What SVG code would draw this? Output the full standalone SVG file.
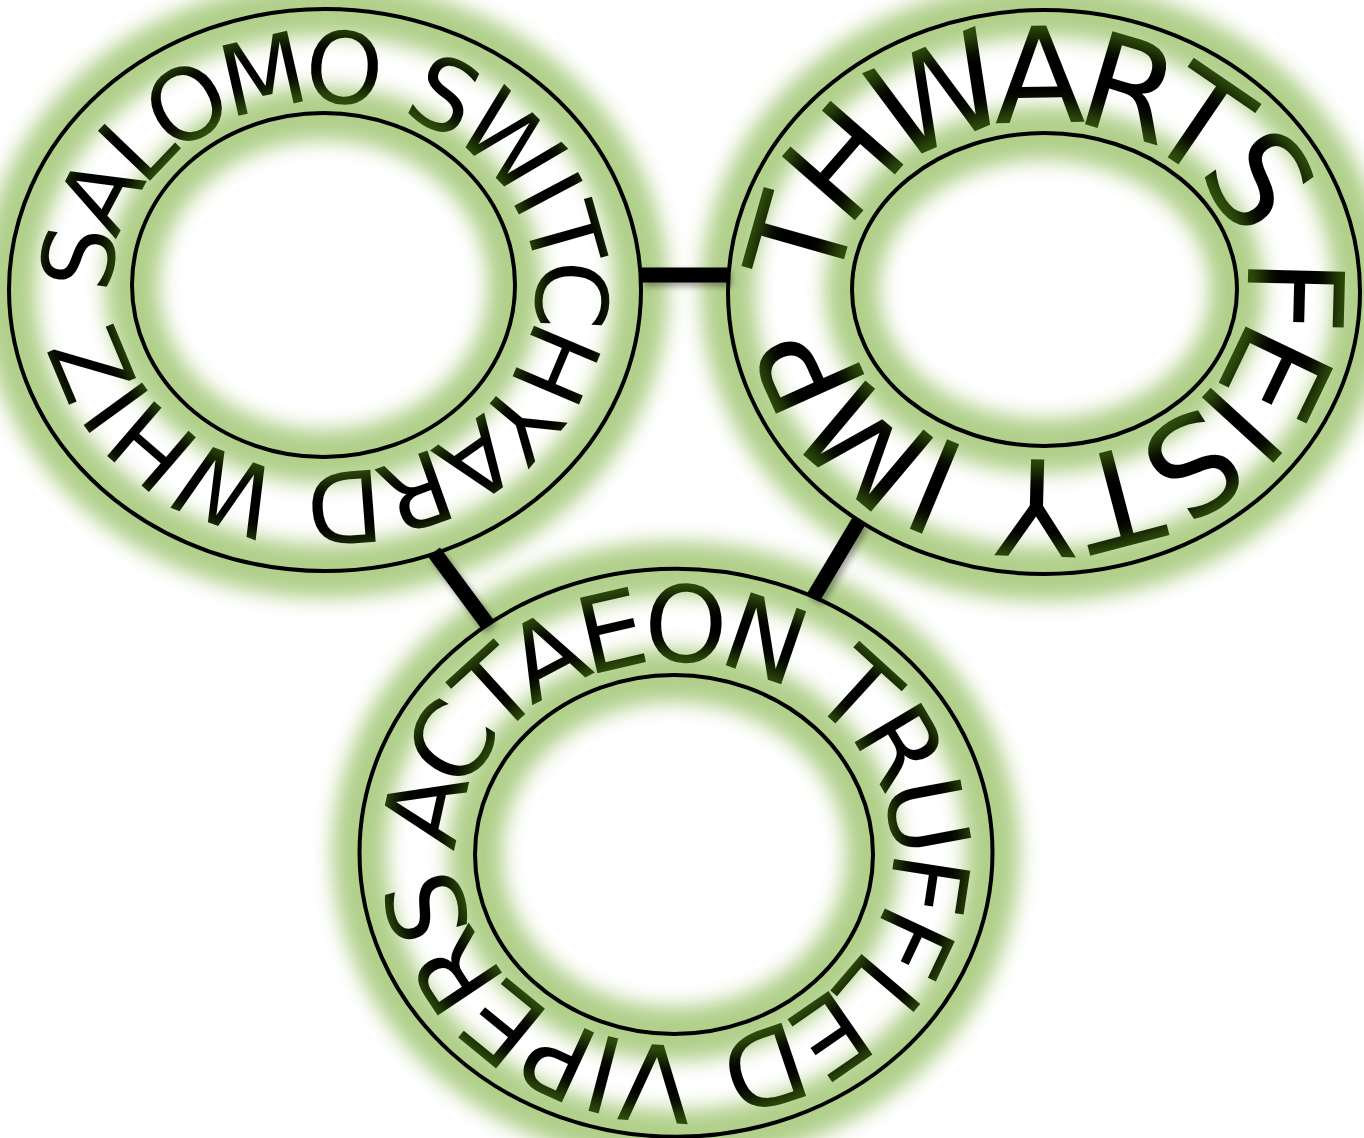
<svg xmlns="http://www.w3.org/2000/svg" width="1364" height="1138" viewBox="0 0 1364 1138">
<style>
.lbl{font-family:"DejaVu Sans","Liberation Sans",sans-serif;fill:#000}
.glow{fill:none;stroke:#64a014;stroke-width:54}
.glowgrp{opacity:.5}
.ring{fill:none;stroke:#000;stroke-width:4}
.edge{stroke:#000;stroke-width:15;fill:none;stroke-linecap:butt}
</style>
<defs>
<filter id="blur" x="-20%" y="-20%" width="140%" height="140%"><feGaussianBlur stdDeviation="10"/></filter>
<filter id="shadow" x="-30%" y="-30%" width="160%" height="160%"><feDropShadow dx="3" dy="4" stdDeviation="3" flood-color="#000" flood-opacity="0.35"/></filter>
<path id="p1" d="M70.25,287.5 A253.75,226.5 0 1 1 577.75,287.5 A253.75,226.5 0 1 1 70.25,287.5 Z"/>
<path id="p2" d="M790,291 A254,219 0 1 1 1298,291 A254,219 0 1 1 790,291 Z"/>
<path id="p3" d="M417,853.5 A258,232 0 1 1 933,853.5 A258,232 0 1 1 417,853.5 Z"/>
</defs>
<rect width="1364" height="1138" fill="#fff"/>

<g id="node-salomo">
<text class="lbl" font-size="99" dy="0.42em"><textPath href="#p1" startOffset="0" textLength="1462">SALOMO SWITCHYARD WHIZ</textPath></text>
<g class="glowgrp" filter="url(#blur)">
<ellipse class="glow" cx="325" cy="290" rx="316" ry="281"/>
<ellipse class="glow" cx="323.5" cy="285" rx="191.5" ry="172"/>
</g>
<ellipse class="ring" cx="325" cy="290" rx="316" ry="281"/>
<ellipse class="ring" cx="323.5" cy="285" rx="191.5" ry="172"/>
</g>

<g id="node-thwarts">
<text class="lbl" font-size="133" dy="0.38em"><textPath href="#p2" startOffset="12" textLength="1434">THWARTS FEISTY IMP</textPath></text>
<g class="glowgrp" filter="url(#blur)">
<ellipse class="glow" cx="1044" cy="292" rx="316" ry="282"/>
<ellipse class="glow" cx="1044.5" cy="289.5" rx="192.5" ry="156.5"/>
</g>
<ellipse class="ring" cx="1044" cy="292" rx="316" ry="282"/>
<ellipse class="ring" cx="1044.5" cy="289.5" rx="192.5" ry="156.5"/>
</g>

<g id="node-actaeon">
<text class="lbl" font-size="106" dy="0.38em"><textPath href="#p3" startOffset="10" textLength="1508">ACTAEON TRUFFLED VIPERS</textPath></text>
<g class="glowgrp" filter="url(#blur)">
<ellipse class="glow" cx="676" cy="852.8" rx="316.5" ry="284"/>
<ellipse class="glow" cx="674" cy="854.5" rx="199" ry="179.5"/>
</g>
<ellipse class="ring" cx="676" cy="852.8" rx="316.5" ry="284"/>
<ellipse class="ring" cx="674" cy="854.5" rx="199" ry="179.5"/>
</g>

<g id="connectors" filter="url(#shadow)">
<line class="edge" x1="641" y1="275" x2="728.5" y2="275"/>
<line class="edge" x1="434" y1="552" x2="488" y2="625"/>
<line class="edge" x1="859" y1="521" x2="813" y2="598"/>
</g>
</svg>
